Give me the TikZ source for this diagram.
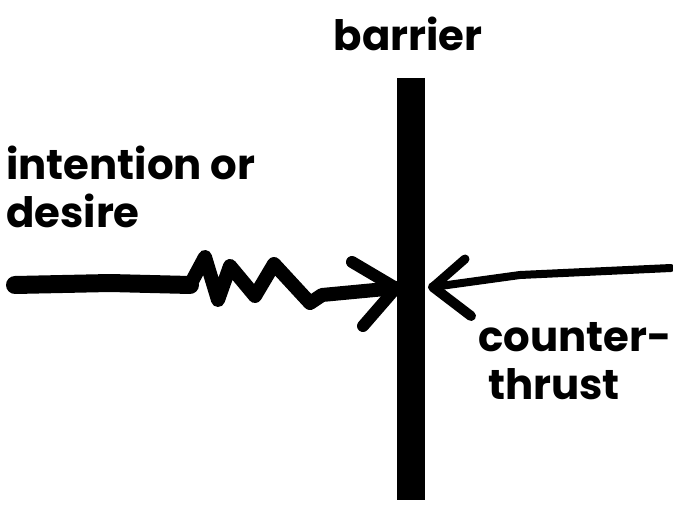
\documentclass[tikz,border=0pt]{standalone}
\usepackage{fontspec}
\setmainfont{Poppins}
\usetikzlibrary{positioning}
\tikzset{
  marker/.style={line cap=round,line join=round,black},
  label/.style={font=\bfseries\fontsize{42}{48}\selectfont,align=left,inner sep=0pt,anchor=north west}
}
\begin{document}
\begin{tikzpicture}[x=1bp,y=-1bp]
\useasboundingbox (0,0) rectangle (673,506);
% labels
\node[font=\bfseries\fontsize{42}{44}\selectfont,inner sep=0pt] (barrierlbl) at (408,34) {barrier};
\node[label] (desire) at (6,146) {intention or\\desire};
\node[label] (thrust) at (478,322) {counter-\\\hspace*{10bp}thrust};
% barrier
\coordinate (btop) at (411,78);
\coordinate (bbot) at (411,500);
\draw[marker,line width=28bp,line cap=butt] (btop) -- (bbot);
% intention line with the wiggle
\coordinate (start) at (15,285);
\coordinate (hitL) at (396,288);
\draw[marker,line width=18bp] (start) -- (110,283) -- (190,285);
\draw[marker,line width=14bp] (190,285) -- (205,257) -- (218,300) -- (230,266)
  -- (255,296) -- (274,264) -- (310,303) -- (322,295) -- (hitL);
\draw[marker,line width=12bp] (352,262) -- (hitL);
\draw[marker,line width=12bp] (363,326) -- (hitL);
% counter-thrust line
\coordinate (finish) at (671,268);
\coordinate (hitR) at (433,287);
\draw[marker,line width=8bp] (finish) -- (520,275) -- (hitR);
\draw[marker,line width=9bp] (465,259) -- (hitR);
\draw[marker,line width=10bp] (471,316) -- (hitR);
\end{tikzpicture}
\end{document}
